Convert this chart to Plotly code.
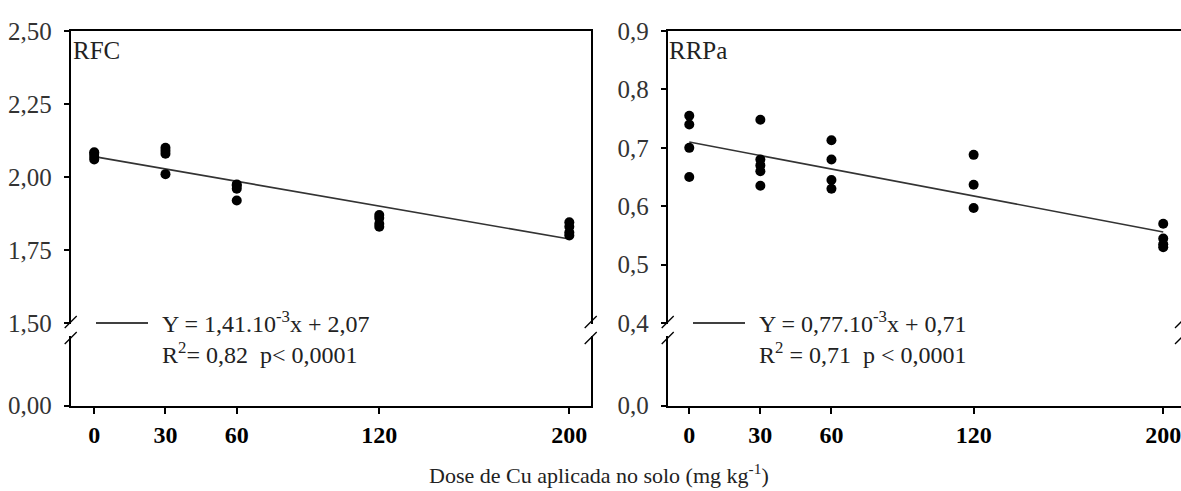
import plotly.graph_objects as go

# ---------------- data ----------------
doses = [0, 30, 60, 120, 200]
dose_labels = ["0", "30", "60", "120", "200"]

rfc_x = [0, 0, 0, 0, 30, 30, 30, 30, 60, 60, 60, 60, 120, 120, 120, 120, 200, 200, 200, 200]
rfc_y = [2.06, 2.07, 2.08, 2.085, 2.01, 2.08, 2.09, 2.10, 1.92, 1.96, 1.97, 1.975,
         1.83, 1.84, 1.86, 1.87, 1.80, 1.81, 1.83, 1.845]

rrpa_x = [0, 0, 0, 0, 30, 30, 30, 30, 30, 60, 60, 60, 60, 120, 120, 120, 200, 200, 200, 200]
rrpa_y = [0.65, 0.70, 0.74, 0.755, 0.635, 0.66, 0.67, 0.68, 0.748, 0.63, 0.645, 0.68, 0.713,
          0.597, 0.637, 0.688, 0.53, 0.535, 0.545, 0.57]

rfc_slope, rfc_intercept = -1.41e-3, 2.07
rrpa_slope, rrpa_intercept = -0.77e-3, 0.71

# broken y axes: value shown as "0" sits just below the break
rfc_zero_pos = 1.2175
rrpa_zero_pos = 0.2587
rfc_tickvals = [rfc_zero_pos, 1.50, 1.75, 2.00, 2.25, 2.50]
rfc_ticktext = ["0,00", "1,50", "1,75", "2,00", "2,25", "2,50"]
rrpa_tickvals = [rrpa_zero_pos, 0.4, 0.5, 0.6, 0.7, 0.8, 0.9]
rrpa_ticktext = ["0,0", "0,4", "0,5", "0,6", "0,7", "0,8", "0,9"]

eq_rfc = ["Y = 1,41.10<sup>-3</sup>x + 2,07", "R<sup>2</sup>= 0,82  p< 0,0001"]
eq_rrpa = ["Y = 0,77.10<sup>-3</sup>x + 0,71", "R<sup>2</sup> = 0,71  p < 0,0001"]
x_title = "Dose de Cu aplicada no solo (mg kg<sup>-1</sup>)"

# ---------------- layout helpers ----------------
W, H = 1181, 491
def px(x):
    return x / W
def py(y):
    return 1 - y / H

FONT = "Liberation Serif, Times New Roman, serif"

fig = go.Figure()

fit_x = [doses[0], doses[-1]]
for xs, ys, slope, icpt, xa, ya in [
    (rfc_x, rfc_y, rfc_slope, rfc_intercept, "x", "y"),
    (rrpa_x, rrpa_y, rrpa_slope, rrpa_intercept, "x2", "y2"),
]:
    fig.add_trace(go.Scatter(
        x=fit_x, y=[icpt + slope * v for v in fit_x], mode="lines",
        line=dict(color="#333333", width=1.6), xaxis=xa, yaxis=ya,
        showlegend=False, hoverinfo="skip"))
    fig.add_trace(go.Scatter(
        x=xs, y=ys, mode="markers",
        marker=dict(color="black", size=10, symbol="circle"),
        xaxis=xa, yaxis=ya, showlegend=False))

ydom = [py(405.7), py(31)]
common_x = dict(
    tickvals=doses, ticktext=dose_labels, showgrid=False, zeroline=False,
    showline=True, linecolor="black", linewidth=2, ticks="outside", ticklen=6,
    tickwidth=1.5, tickcolor="black", automargin=False, ticklabeloverflow="allow",
    tickfont=dict(family=FONT, size=24, color="black", weight="bold"),
)
common_y = dict(
    showgrid=False, zeroline=False, showline=True, linecolor="black", linewidth=2,
    ticks="outside", ticklen=5, tickwidth=1.5, tickcolor="black", automargin=False,
    ticklabelstandoff=7,
    tickfont=dict(family=FONT, size=25, color="#333333"), domain=ydom,
)

fig.update_layout(
    width=W, height=H, margin=dict(l=0, r=0, t=0, b=0),
    paper_bgcolor="white", plot_bgcolor="white",
    template="none",
    xaxis=dict(common_x, domain=[px(70.7), px(590.7)], range=[-9.9, 209.0], mirror=True, anchor="y"),
    yaxis=dict(common_y, range=[rfc_zero_pos, 2.5], tickvals=rfc_tickvals,
               ticktext=rfc_ticktext, mirror=True, anchor="x"),
    xaxis2=dict(common_x, domain=[px(667.7), 1.0], range=[-9.1, 207.5], mirror=True, anchor="y2"),
    yaxis2=dict(common_y, range=[rrpa_zero_pos, 0.9], tickvals=rrpa_tickvals,
                ticktext=rrpa_ticktext, mirror=False, anchor="x2"),
)

shapes = []
# axis breaks
for bx in [70.7, 590.7, 667.7, 1181]:
    shapes.append(dict(type="rect", xref="paper", yref="paper",
                       x0=px(bx - 3), x1=px(bx + 3), y0=py(336), y1=py(324),
                       fillcolor="white", line=dict(width=0), layer="above"))
    shapes.append(dict(type="line", xref="paper", yref="paper",
                       x0=px(bx - 6), y0=py(328), x1=px(bx + 6), y1=py(316),
                       line=dict(color="black", width=1.3)))
    shapes.append(dict(type="line", xref="paper", yref="paper",
                       x0=px(bx - 6), y0=py(344), x1=px(bx + 6), y1=py(332),
                       line=dict(color="black", width=1.3)))
# legend line samples
for lx0, lx1 in [(96, 148), (693, 745)]:
    shapes.append(dict(type="line", xref="paper", yref="paper",
                       x0=px(lx0), x1=px(lx1), y0=py(323), y1=py(323),
                       line=dict(color="black", width=1.6)))
fig.update_layout(shapes=shapes)

ann = []
def text(x, y, s, size=24, xanchor="left", color="#222222"):
    ann.append(dict(x=px(x), y=py(y), xref="paper", yref="paper", text=s,
                    showarrow=False, xanchor=xanchor, yanchor="middle",
                    font=dict(family=FONT, size=size, color=color)))

text(71, 50, "RFC", size=25)
text(667, 50, "RRPa", size=25)
text(160, 322, eq_rfc[0])
text(160, 353, eq_rfc[1])
text(757, 322, eq_rrpa[0])
text(757, 353, eq_rrpa[1])
text(599, 474, x_title, size=22, xanchor="center")
fig.update_layout(annotations=ann)

fig.write_html("out.html", config={"displayModeBar": False},
               post_script="document.body.style.margin='0';document.body.style.overflow='hidden';")
